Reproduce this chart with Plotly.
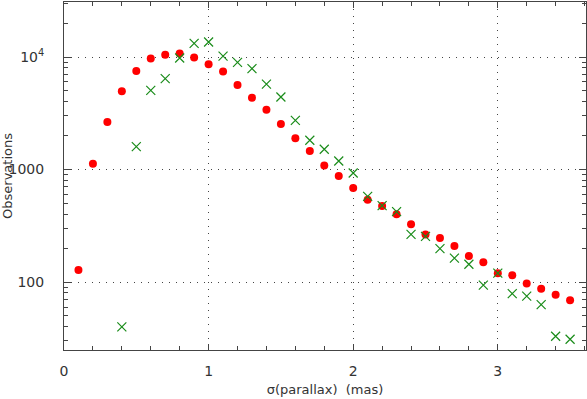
import plotly.graph_objects as go

x_red = [0.1, 0.2, 0.3, 0.4, 0.5, 0.6, 0.7, 0.8, 0.9, 1.0, 1.1, 1.2, 1.3, 1.4, 1.5, 1.6, 1.7, 1.8,
         1.9, 2.0, 2.1, 2.2, 2.3, 2.4, 2.5, 2.6, 2.7, 2.8, 2.9, 3.0, 3.1, 3.2, 3.3, 3.4, 3.5]
y_red = [128, 1128, 2645, 4955, 7510, 9680, 10500, 10720, 9880, 8610, 7420, 5640, 4350, 3405,
         2535, 1892, 1460, 1084, 875, 685, 538, 474, 400, 326, 264, 246, 209, 170, 150, 120,
         115, 97, 87, 77, 69]

x_green = [0.4, 0.5, 0.6, 0.7, 0.8, 0.9, 1.0, 1.1, 1.2, 1.3, 1.4, 1.5, 1.6, 1.7, 1.8, 1.9, 2.0,
           2.1, 2.2, 2.3, 2.4, 2.5, 2.6, 2.7, 2.8, 2.9, 3.0, 3.1, 3.2, 3.3, 3.4, 3.5]
y_green = [40, 1597, 5058, 6430, 9800, 13240, 13600, 10200, 8970, 7890, 5750, 4410, 2735, 1820,
           1514, 1191, 931, 578, 477, 423, 265, 255, 198, 163, 144, 94, 120, 79, 75, 63, 33, 31]

x_ticks = [0, 1, 2, 3]
x_ticktext = ["0", "1", "2", "3"]
y_ticks = [100, 1000, 10000]
y_ticktext = ["100", "1000", "10<sup>4</sup>"]

x_title = "σ(parallax)  (mas)"
y_title = "Observations"

fig = go.Figure()
fig.add_trace(go.Scatter(x=x_red, y=y_red, mode="markers",
                         marker=dict(symbol="circle", size=8, color="#ff0000",
                                     line=dict(width=0)),
                         showlegend=False))
fig.add_trace(go.Scatter(x=x_green, y=y_green, mode="markers",
                         marker=dict(symbol="x-thin", size=9, color="#1a8c1a",
                                     line=dict(width=1.2, color="#1a8c1a")),
                         showlegend=False))

axis_common = dict(
    showline=True, linecolor="#444", linewidth=1, mirror="allticks",
    ticks="inside", tickcolor="#444", zeroline=False, automargin=False,
    showgrid=True, gridcolor="#444", gridwidth=1, griddash="1px,6px",
    tickfont=dict(family="DejaVu Sans", size=14, color="#333"),
)

fig.update_layout(
    width=587, height=399,
    margin=dict(l=64, r=1, t=2, b=49),
    paper_bgcolor="white", plot_bgcolor="white",
    font=dict(family="DejaVu Sans", size=13, color="#333"),
    xaxis=dict(range=[0, 3.61], tickvals=x_ticks, ticktext=x_ticktext, ticklen=6,
               ticklabelstandoff=8,
               minor=dict(ticks="inside", dtick=0.2, ticklen=4, tickcolor="#444", showgrid=False),
               title=dict(text=x_title, standoff=7, font=dict(size=13)),
               **axis_common),
    yaxis=dict(type="log", range=[1.396, 4.489], tickvals=y_ticks, ticktext=y_ticktext,
               ticklen=7, ticklabelstandoff=16,
               minor=dict(ticks="inside", dtick="D1", ticklen=4, tickcolor="#444", showgrid=False),
               title=dict(text=y_title, standoff=8, font=dict(size=13)),
               **axis_common),
)

fig.write_html("out.html", config={"displayModeBar": False},
               post_script="document.body.style.margin='0';document.body.style.overflow='hidden';")
